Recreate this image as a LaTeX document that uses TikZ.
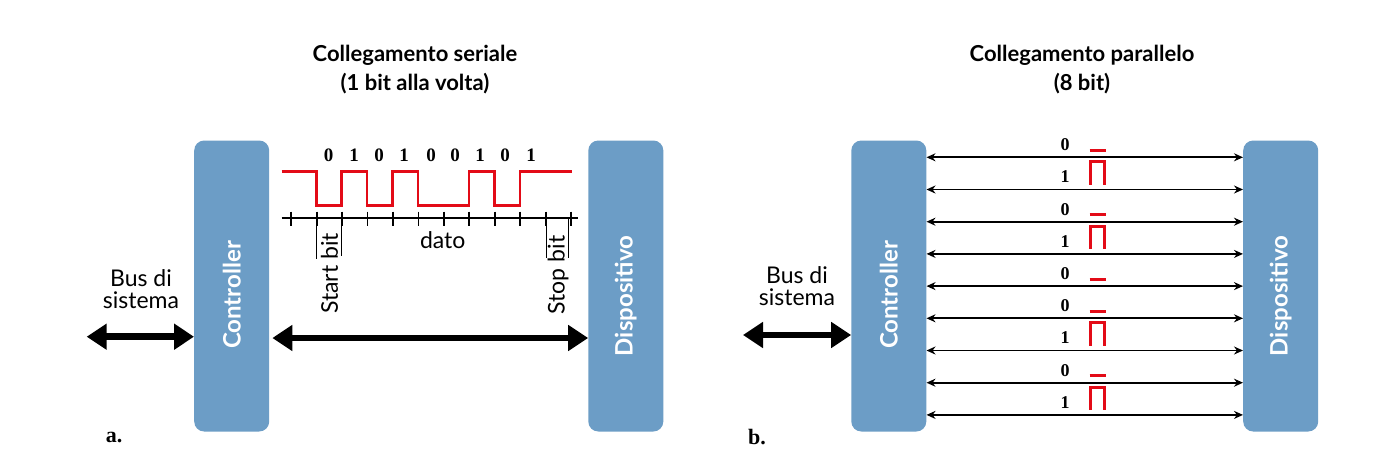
\documentclass[tikz,border=0pt]{standalone}
\usepackage{fontspec}
\setmainfont{Lato}
\newfontfamily\digfont{Liberation Serif}
\usetikzlibrary{arrows.meta}
\definecolor{boxblue}{HTML}{6C9DC6}
\definecolor{sigred}{HTML}{E30B17}
\begin{document}
\begin{tikzpicture}[x=1pt,y=-1pt,
  box/.style={fill=boxblue, rounded corners=10pt, minimum width=75pt, minimum height=291pt, inner sep=0pt},
  boxtext/.style={text=white, font=\fontsize{24}{26}\selectfont\bfseries, rotate=90, inner sep=0pt},
  title/.style={font=\fontsize{22}{29}\selectfont\bfseries, align=center},
  lab/.style={font=\fontsize{23}{22}\selectfont, align=center, inner sep=0pt},
  vlab/.style={font=\fontsize{23}{22}\selectfont, rotate=90, inner sep=0pt},
  sbit/.style={font=\digfont\bfseries\fontsize{19}{19}\selectfont, inner sep=0pt},
  pbit/.style={font=\digfont\bfseries\fontsize{18}{18}\selectfont, inner sep=0pt},
  panel/.style={font=\digfont\bfseries\fontsize{22}{22}\selectfont, inner sep=0pt},
  bigarrow/.style={line width=6.5pt, {Triangle[length=20pt,width=25pt]}-{Triangle[length=20pt,width=25pt]}},
  thinarrow/.style={line width=1.8pt, {Stealth[length=9pt,width=8pt]}-{Stealth[length=9pt,width=8pt]}},
  sig/.style={draw=sigred, line width=2.7pt},
  axis/.style={line width=1.8pt},
  brk/.style={line width=1.3pt},
]
\useasboundingbox[fill=white] (0,0) rectangle (1378,474);

% ---------- panel a ----------
\node[title] (t1) at (415,70) {Collegamento seriale\\(1 bit alla volta)};
\node[box] (ctrl1) at (231.7,286) {};
\node[boxtext] (ctrl1t) at ([yshift=-9pt]ctrl1.center) {Controller};
\node[box] (disp1) at (625.8,286) {};
\node[boxtext] (disp1t) at ([yshift=-10pt]disp1.center) {Dispositivo};

\node[lab] (bus1) at (141,289) {Bus di\\sistema};
\coordinate (bus1end) at (86.7,336.7);
\draw[bigarrow] (bus1end) -- (ctrl1.west |- bus1end);
\coordinate (ser) at (0,338);
\draw[bigarrow] ([xshift=3pt]ctrl1.east |- ser) -- (disp1.west |- ser);

% signal
\draw[sig] (281.7,171.5) -- (316.5,171.5) -- (316.5,205.5) -- (341.5,205.5) -- (341.5,171.5)
  -- (367,171.5) -- (367,205.5) -- (392.5,205.5) -- (392.5,171.5) -- (418,171.5) -- (418,205.5)
  -- (469,205.5) -- (469,171.5) -- (494.5,171.5) -- (494.5,205.5) -- (520,205.5) -- (520,171.5)
  -- (572,171.5);
% axis
\draw[axis] (281.5,218.3) -- (578,218.3);
\foreach \k in {0,...,11} \draw[axis] (291.2+25.45*\k,211.5) -- ++(0,14);
% brackets
\draw[brk] (316.5,218) -- (316.5,259);
\draw[brk] (341.2,218) -- (341.2,256);
\draw[brk] (546.5,218) -- (546.5,258);
\draw[brk] (568.5,218) -- (568.5,258);
\node[vlab] (startb) at (329.5,273.5) {Start bit};
\node[vlab] (stopb) at (558,275) {Stop bit};
\node[lab] (dato) at (442.7,240) {dato};
% bits
\foreach \x/\b [count=\n] in {328.7/0,354/1,379/0,404/1,431/0,455/0,480/1,505/0,531/1}
  \node[sbit] (sb\n) at (\x,155) {\b};

\node[panel] (pa) at (114,437) {a.};

% ---------- panel b ----------
\node[title] (t2) at (1082,70) {Collegamento parallelo\\(8 bit)};
\node[box] (ctrl2) at (888.8,286) {};
\node[boxtext] (ctrl2t) at ([yshift=-9pt]ctrl2.center) {Controller};
\node[box] (disp2) at (1280.7,286) {};
\node[boxtext] (disp2t) at ([yshift=-10pt]disp2.center) {Dispositivo};

\node[lab] (bus2) at (797,286) {Bus di\\sistema};
\coordinate (bus2end) at (743,335);
\draw[bigarrow] (bus2end) -- (ctrl2.west |- bus2end);

\foreach \b [count=\i from 0] in {0,1,0,1,0,0,1,0,1} {
  \pgfmathsetmacro\L{157.3+32.2*\i}
  \coordinate (pl\i) at (0,\L);
  \draw[thinarrow] (ctrl2.east |- pl\i) -- (disp2.west |- pl\i);
  \node[pbit] (pd\i) at (1065,\L-12.5) {\b};
  \ifnum\b=0
    \draw[sig, line width=3pt] (1089.5,\L-7) -- (1105.5,\L-7);
  \else
    \draw[sig, line width=3.2pt] (1090.5,\L-5) -- (1090.5,\L-27.7) -- (1104.5,\L-27.7) -- (1104.5,\L-5);
  \fi
}

\node[panel] (pb) at (757,437) {b.};
\end{tikzpicture}
\end{document}
